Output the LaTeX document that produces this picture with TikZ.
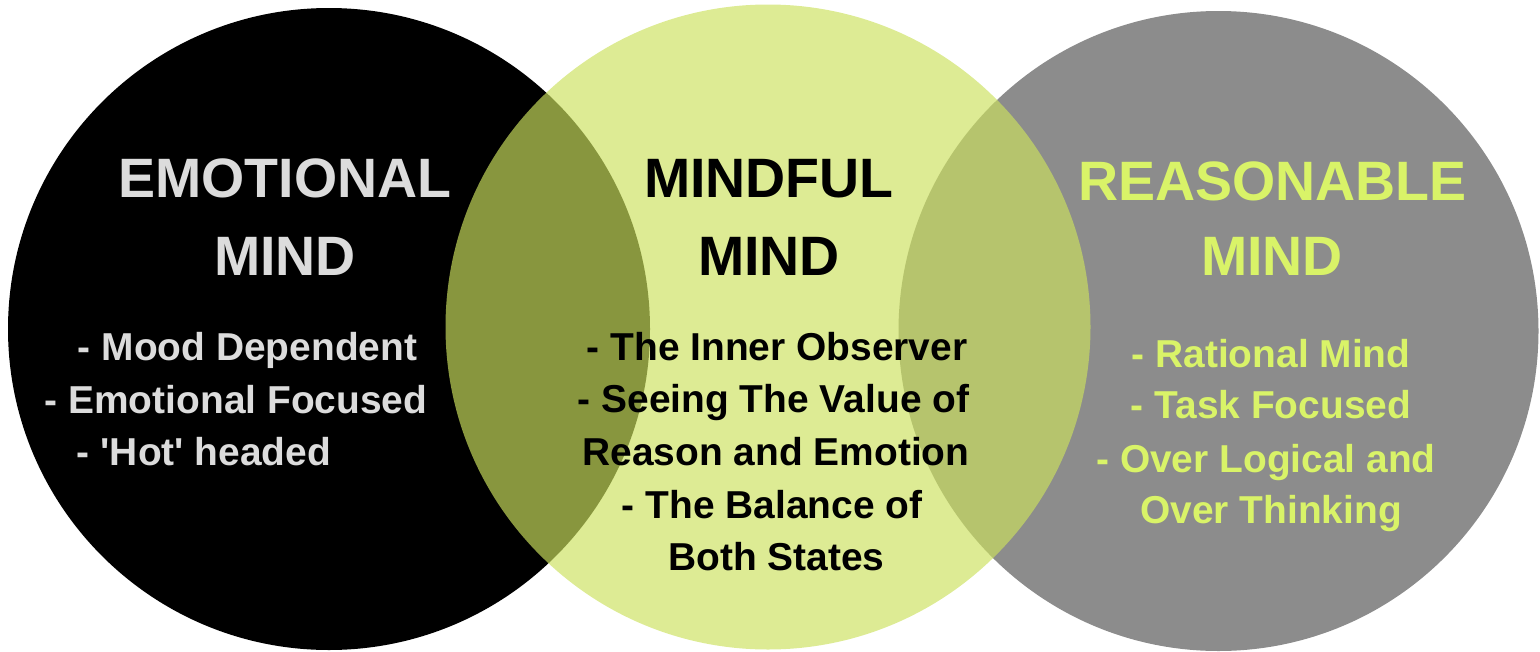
\documentclass[tikz,border=0pt]{standalone}
\usepackage{fontspec}
\setmainfont{Liberation Sans}
\definecolor{emoblack}{RGB}{0,0,0}
\definecolor{reasgray}{RGB}{140,140,140}
\definecolor{mindgreen}{RGB}{204,225,94}
\definecolor{emotext}{RGB}{220,220,220}
\definecolor{reastext}{RGB}{217,243,104}
\tikzset{
  title/.style={inner sep=0pt, anchor=base, font=\bfseries\fontsize{55.5}{60}\selectfont},
  item/.style={inner sep=0pt, anchor=base, font=\bfseries\fontsize{38.9}{44}\selectfont},
}
\begin{document}
\begin{tikzpicture}[x=1pt,y=-1pt]
\useasboundingbox (0,0) rectangle (1540,651);
% circles
\fill[emoblack] (329,329) circle[radius=321];
\fill[reasgray] (1218.5,331) circle[radius=320];
\fill[mindgreen, fill opacity=0.667] (768,327) circle[radius=322.5];
% Emotional mind
\node[title, text=emotext] (e1) at (285,197) {EMOTIONAL};
\node[title, text=emotext] (e2) at (285,275) {MIND};
\node[item, text=emotext] (e3) at (247.5,360) {- Mood Dependent};
\node[item, text=emotext] (e4) at (236,413) {- Emotional Focused};
\node[item, text=emotext] (e5) at (204,465) {- \textquotesingle Hot\textquotesingle{} headed};
% Mindful mind
\node[title, text=black] (m1) at (769,197) {MINDFUL};
\node[title, text=black] (m2) at (769,275) {MIND};
\node[item, text=black] (m3) at (777,360) {- The Inner Observer};
\node[item, text=black] (m4) at (773.5,412) {- Seeing The Value of};
\node[item, text=black] (m5) at (776,465) {Reason and Emotion};
\node[item, text=black] (m6) at (772,518) {- The Balance of};
\node[item, text=black] (m7) at (776.5,570) {Both States};
% Reasonable mind
\node[title, text=reastext] (r1) at (1272.5,200) {REASONABLE};
\node[title, text=reastext] (r2) at (1272,275) {MIND};
\node[item, text=reastext] (r3) at (1271,367) {- Rational Mind};
\node[item, text=reastext] (r4) at (1271,418) {- Task Focused};
\node[item, text=reastext] (r5) at (1266,472) {- Over Logical and};
\node[item, text=reastext] (r6) at (1271,523) {Over Thinking};
\end{tikzpicture}
\end{document}
